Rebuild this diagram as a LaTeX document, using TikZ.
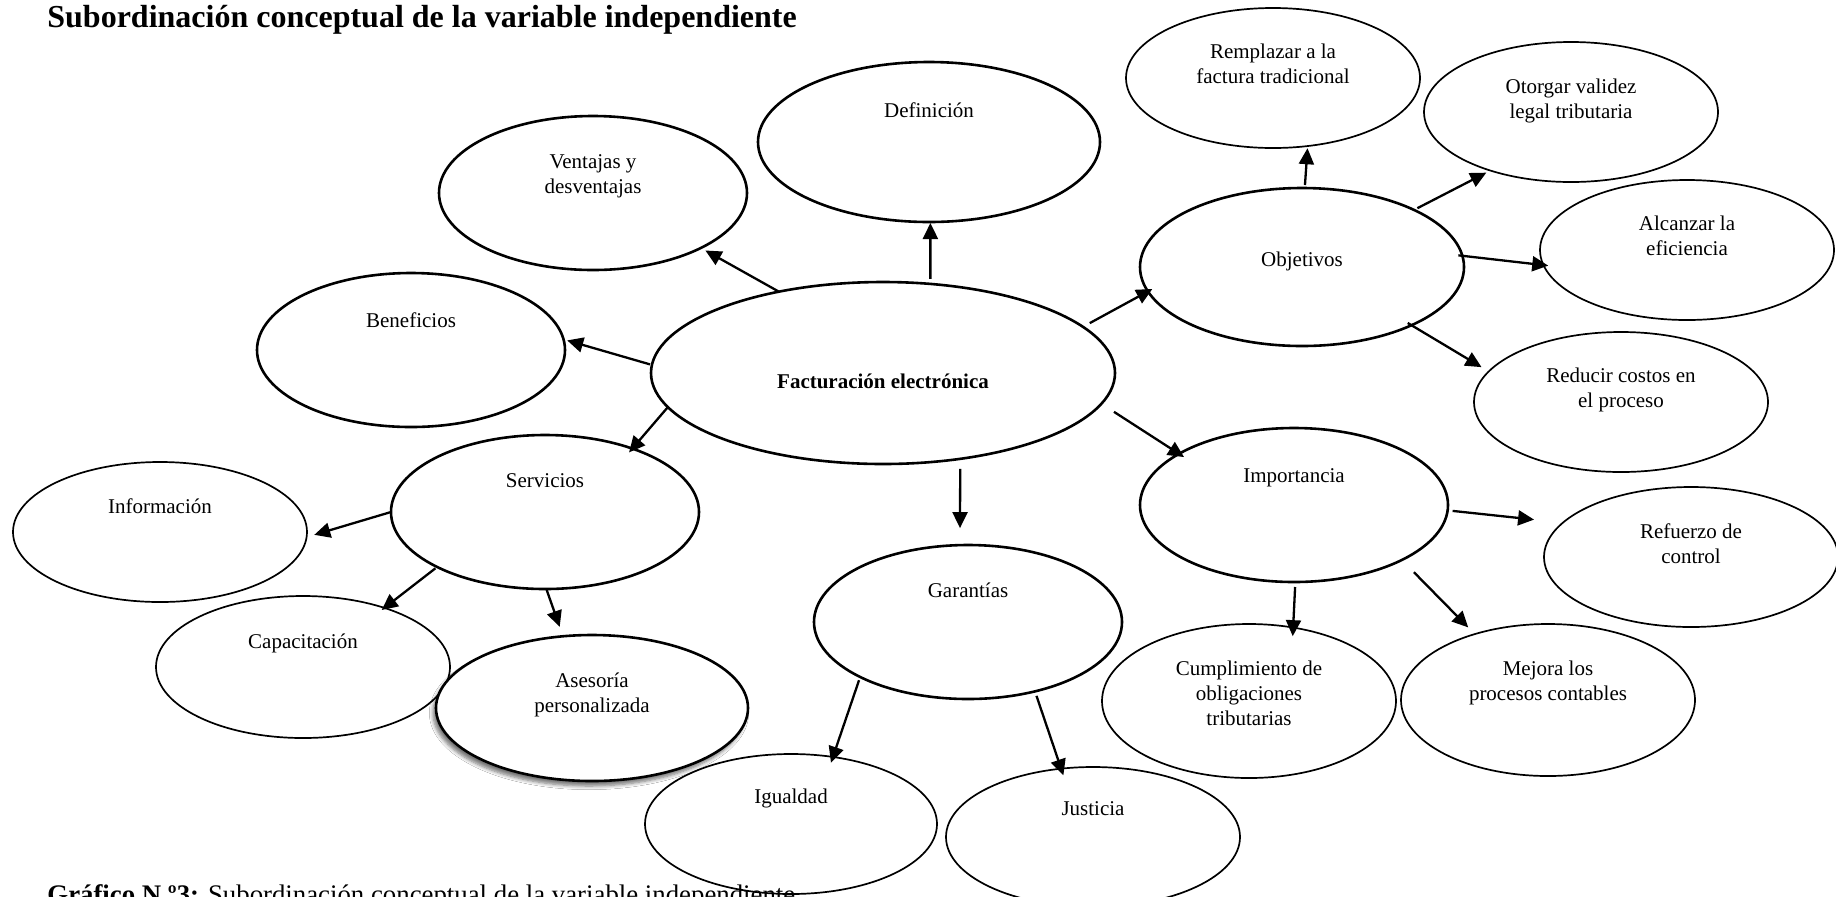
\documentclass[tikz,border=0pt]{standalone}
\usepackage{fontspec}
\setmainfont{Liberation Serif}
\usetikzlibrary{shapes.geometric,arrows.meta,shadows.blur}

% one line of an oval's text, or several stacked lines
\newcommand\lines[1]{\begin{tabular}[t]{@{}c@{}}#1\end{tabular}}
\renewcommand\arraystretch{1}

\tikzset{
  oval/.style={ellipse, draw=black, fill=white, inner sep=0pt, outer sep=0pt, line width=0.85pt},
  ovalB/.style={oval, line width=1.3pt},
  lbl/.style={inner sep=0pt, anchor=base, font=\fontsize{10.5}{12.5}\selectfont},
  arr/.style={-{Triangle[length=8pt,width=7.5pt]}, line width=1.15pt},
}

\begin{document}
\begin{tikzpicture}[x=0.5pt, y=-0.5pt]
\useasboundingbox (0,0) rectangle (1836,896);
\fill[white] (0,0) rectangle (1836,896);
\clip (0,0) rectangle (1836,896);

% title
\node[inner sep=0pt, anchor=base west, font=\fontsize{16}{19}\selectfont\bfseries] (title) at (47,27)
  {Subordinación conceptual de la variable independiente};

% central concept
\node[ovalB, minimum width=232pt, minimum height=91pt] (fact) at (883,373) {};
\node[lbl] (fact-t) at (883,388) {\bfseries Facturación electrónica};

% first level
\node[ovalB, minimum width=171pt, minimum height=80pt] (def) at (929,142) {};
\node[lbl] (def-t) at (929,117) {Definición};

\node[ovalB, minimum width=154pt, minimum height=77pt] (vent) at (593,193) {};
\node[lbl] (vent-t) at (593,168) {\lines{Ventajas y\\desventajas}};

\node[ovalB, minimum width=154pt, minimum height=77pt] (ben) at (411,350) {};
\node[lbl] (ben-t) at (411,327) {Beneficios};

\node[ovalB, minimum width=154pt, minimum height=77pt] (serv) at (545,512) {};
\node[lbl] (serv-t) at (545,487) {Servicios};

\node[ovalB, minimum width=154pt, minimum height=77pt] (gar) at (968,622) {};
\node[lbl] (gar-t) at (968,597) {Garantías};

\node[ovalB, minimum width=154pt, minimum height=77pt] (imp) at (1294,505) {};
\node[lbl] (imp-t) at (1294,482) {Importancia};

\node[ovalB, minimum width=162pt, minimum height=79pt] (obj) at (1302,267) {};
\node[lbl] (obj-t) at (1302,266) {Objetivos};

% second level
\node[oval, minimum width=147pt, minimum height=70pt] (rem) at (1273,78) {};
\node[lbl] (rem-t) at (1273,58) {\lines{Remplazar a la\\factura tradicional}};

\node[oval, minimum width=147pt, minimum height=70pt] (otor) at (1571,112) {};
\node[lbl] (otor-t) at (1571,93) {\lines{Otorgar validez\\legal tributaria}};

\node[oval, minimum width=147pt, minimum height=70pt] (alc) at (1687,250) {};
\node[lbl] (alc-t) at (1687,230) {\lines{Alcanzar la\\eficiencia}};

\node[oval, minimum width=147pt, minimum height=70pt] (red) at (1621,402) {};
\node[lbl] (red-t) at (1621,382) {\lines{Reducir costos en\\el proceso}};

\node[oval, minimum width=147pt, minimum height=70pt] (ref) at (1691,557) {};
\node[lbl] (ref-t) at (1691,538) {\lines{Refuerzo de\\control}};

\node[oval, minimum width=147pt, minimum height=76pt] (mej) at (1548,700) {};
\node[lbl] (mej-t) at (1548,675) {\lines{Mejora los\\procesos contables}};

\node[oval, minimum width=147pt, minimum height=77pt] (cum) at (1249,701) {};
\node[lbl] (cum-t) at (1249,675) {\lines{Cumplimiento de\\obligaciones\\tributarias}};

\node[oval, minimum width=146pt, minimum height=70pt] (igu) at (791,824) {};
\node[lbl] (igu-t) at (791,803) {Igualdad};

\node[oval, minimum width=147pt, minimum height=70pt] (jus) at (1093,837) {};
\node[lbl] (jus-t) at (1093,815) {Justicia};

\node[oval, minimum width=147pt, minimum height=70pt] (info) at (160,532) {};
\node[lbl] (info-t) at (160,513) {Información};

\node[oval, minimum width=147pt, minimum height=71pt] (cap) at (303,667) {};
\node[lbl] (cap-t) at (303,648) {Capacitación};

\node[ovalB, minimum width=156pt, minimum height=73pt,
      blur shadow={shadow xshift=-1.5pt, shadow yshift=-2.5pt, shadow blur steps=6, shadow opacity=55}]
      (ase) at (592,708) {};
\node[lbl] (ase-t) at (592,687) {\lines{Asesoría\\personalizada}};

% connectors from the central concept
\draw[arr, shorten <=2.5pt, shorten >=0.5pt] (fact.62) -- (def.-89);
\draw[arr, shorten <=0.3pt, shorten >=2.6pt] (fact.142) -- (vent.-27);
\draw[arr, shorten <=1pt, shorten >=1.9pt] (fact.178) -- (ben.4);
\draw[arr, shorten <=0pt, shorten >=-2.5pt] (fact.189) -- (serv.36);
\draw[arr, shorten <=5pt, shorten >=8.5pt] (fact.-48) -- (gar.96);
\draw[arr, shorten <=7.5pt, shorten >=-3pt] (fact.-8) -- (imp.156);
\draw[arr, shorten <=3.9pt, shorten >=-2.5pt] (fact.13) -- (obj.189);

% objetivos
\draw[arr, shorten <=1.5pt, shorten >=1.1pt] (obj.88) -- (rem.-63);
\draw[arr, shorten <=1.9pt, shorten >=2.3pt] (obj.27) -- (otor.216);
\draw[arr, shorten <=-2pt, shorten >=-2.4pt] (obj.4) -- (alc.186);
\draw[arr, shorten <=-2.2pt, shorten >=4.2pt] (obj.-28) -- (red.167);

% importancia
\draw[arr, shorten <=2.5pt, shorten >=14.5pt] (imp.-2) -- (ref.165);
\draw[arr, shorten <=8.6pt, shorten >=4.7pt] (imp.-27) -- (mej.138);
\draw[arr, shorten <=2.5pt, shorten >=-4.3pt] (imp.-89) -- (cum.59);

% garantías
\draw[arr, shorten <=1.7pt, shorten >=-3pt] (gar.207) -- (igu.58);
\draw[arr, shorten <=2.4pt, shorten >=-3.5pt] (gar.-46) -- (jus.115);

% servicios
\draw[arr, shorten <=0.5pt, shorten >=4pt] (serv.180) -- (info.-2);
\draw[arr, shorten <=1.1pt, shorten >=-1.7pt] (serv.207) -- (cap.36);
\draw[arr, shorten <=0.5pt, shorten >=5pt] (serv.-89) -- (ase.112);

% caption
\node[inner sep=0pt, anchor=base west, font=\fontsize{13.4}{16}\selectfont] (caption) at (47,903)
  {\textbf{Gráfico N.º3:} Subordinación conceptual de la variable independiente};
\end{tikzpicture}
\end{document}
